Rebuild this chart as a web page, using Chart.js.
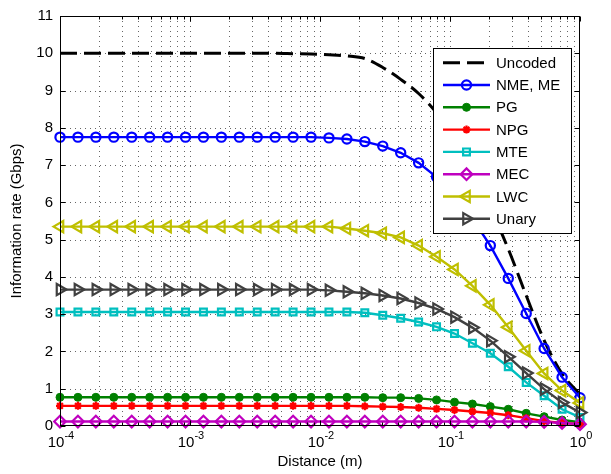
<!DOCTYPE html>
<html>
<head>
<meta charset="utf-8">
<script src="https://cdn.jsdelivr.net/npm/chart.js@4/dist/chart.umd.min.js"></script>
<style>
  html, body { margin: 0; padding: 0; background: #fff; }
  canvas { display: block; }
</style>
</head>
<body>
<canvas id="rateChart" width="611" height="474"></canvas>
<script>
// distance samples (m), 30 points log-spaced 1e-4 .. 1
var distances = [1.000e-4, 1.374e-4, 1.887e-4, 2.593e-4, 3.562e-4, 4.894e-4, 6.723e-4, 9.237e-4,
    1.269e-3, 1.743e-3, 2.395e-3, 3.290e-3, 4.520e-3, 6.210e-3, 8.532e-3,
    1.172e-2, 1.610e-2, 2.212e-2, 3.039e-2, 4.175e-2, 5.736e-2, 7.880e-2,
    0.1083, 0.1487, 0.2043, 0.2807, 0.3857, 0.5298, 0.7279, 1.0];

// information rate (Gbps)
var uncoded = [10, 10, 10, 10, 10, 10, 10, 10, 10, 10, 10, 10, 10, 9.99, 9.98,
    9.96, 9.93, 9.86, 9.62, 9.30, 8.92, 8.40, 7.72, 6.88, 5.85, 4.75, 3.50, 2.30, 1.40, 0.85];
var nmeMe = [7.75, 7.75, 7.75, 7.75, 7.75, 7.75, 7.75, 7.75, 7.75, 7.75, 7.75, 7.75, 7.75, 7.75, 7.75,
    7.73, 7.70, 7.63, 7.51, 7.33, 7.06, 6.68, 6.18, 5.56, 4.84, 3.96, 3.02, 2.08, 1.31, 0.76];
var pg = [0.77, 0.77, 0.77, 0.77, 0.77, 0.77, 0.77, 0.77, 0.77, 0.77, 0.77, 0.77, 0.77, 0.77, 0.77,
    0.77, 0.77, 0.77, 0.76, 0.76, 0.74, 0.70, 0.64, 0.59, 0.52, 0.45, 0.34, 0.25, 0.16, 0.10];
var npg = [0.54, 0.54, 0.54, 0.54, 0.54, 0.54, 0.54, 0.54, 0.54, 0.54, 0.54, 0.54, 0.54, 0.54, 0.54,
    0.54, 0.54, 0.53, 0.52, 0.51, 0.49, 0.46, 0.43, 0.39, 0.35, 0.29, 0.21, 0.13, 0.08, 0.05];
var mte = [3.06, 3.06, 3.06, 3.06, 3.06, 3.06, 3.06, 3.06, 3.06, 3.06, 3.06, 3.06, 3.06, 3.06, 3.06,
    3.06, 3.06, 3.04, 2.97, 2.89, 2.79, 2.66, 2.48, 2.22, 1.95, 1.59, 1.17, 0.81, 0.45, 0.23];
var mec = [0.12, 0.12, 0.12, 0.12, 0.12, 0.12, 0.12, 0.12, 0.12, 0.12, 0.12, 0.12, 0.12, 0.12, 0.12,
    0.12, 0.12, 0.12, 0.12, 0.12, 0.12, 0.12, 0.12, 0.12, 0.12, 0.12, 0.12, 0.11, 0.08, 0.05];
var lwc = [5.35, 5.35, 5.35, 5.35, 5.35, 5.35, 5.35, 5.35, 5.35, 5.35, 5.35, 5.35, 5.35, 5.35, 5.35,
    5.35, 5.30, 5.24, 5.17, 5.06, 4.84, 4.54, 4.20, 3.76, 3.25, 2.65, 2.02, 1.41, 0.95, 0.62];
var unary = [3.66, 3.66, 3.66, 3.66, 3.66, 3.66, 3.66, 3.66, 3.66, 3.66, 3.66, 3.66, 3.66, 3.66, 3.66,
    3.64, 3.60, 3.56, 3.50, 3.42, 3.30, 3.14, 2.92, 2.64, 2.29, 1.86, 1.42, 0.99, 0.63, 0.36];

var seriesNames = ["Uncoded", "NME, ME", "PG", "NPG", "MTE", "MEC", "LWC", "Unary"];

// axes
var xTickExponents = [-4, -3, -2, -1, 0];
var xGridValues = [1e-4, 2e-4, 3e-4, 4e-4, 5e-4, 6e-4, 7e-4, 8e-4, 9e-4,
    1e-3, 2e-3, 3e-3, 4e-3, 5e-3, 6e-3, 7e-3, 8e-3, 9e-3,
    1e-2, 2e-2, 3e-2, 4e-2, 5e-2, 6e-2, 7e-2, 8e-2, 9e-2,
    0.1, 0.2, 0.3, 0.4, 0.5, 0.6, 0.7, 0.8, 0.9, 1];
var yTicks = [0, 1, 2, 3, 4, 5, 6, 7, 8, 9, 10, 11];

var FONT = "'Liberation Sans', Arial, Helvetica, sans-serif";

function toPoints(values) {
    var pts = [];
    for (var i = 0; i < distances.length; i++) {
        pts.push({ x: distances[i], y: values[i] });
    }
    return pts;
}

function series(idx, values, color, style) {
    var ds = {
        label: seriesNames[idx],
        data: toPoints(values),
        borderColor: color,
        backgroundColor: color,
        borderWidth: 2.4,
        tension: 0,
        clip: false,
        order: 10 - idx, // later series on top, like matlab
        pointStyle: style.pointStyle || false,
        pointRadius: style.radius || 0,
        pointHoverRadius: style.radius || 0,
        pointBorderWidth: style.pointBorderWidth || 2.2,
        pointRotation: style.rotation || 0,
        pointBorderColor: color,
        pointBackgroundColor: style.filled ? color : "rgba(0,0,0,0)"
    };
    if (style.dash) {
        ds.borderDash = style.dash;
        ds.borderWidth = 3;
        ds.cubicInterpolationMode = "monotone";
    }
    return ds;
}

var datasets = [
    series(0, uncoded, "#000000", { dash: [17, 7] }),
    series(1, nmeMe, "#0000FF", { pointStyle: "circle", radius: 4.6 }),
    series(2, pg, "#008000", { pointStyle: "circle", radius: 4, filled: true, pointBorderWidth: 1 }),
    series(3, npg, "#FF0000", { pointStyle: "star", radius: 4 }),
    series(4, mte, "#00BFBF", { pointStyle: "rect", radius: 4.8 }),
    series(5, mec, "#BF00BF", { pointStyle: "rectRot", radius: 5.8 }),
    series(6, lwc, "#BFBF00", { pointStyle: "triangle", radius: 6.5, rotation: -90 }),
    series(7, unary, "#404040", { pointStyle: "triangle", radius: 6.5, rotation: 90 })
];

// matlab look: dotted grid, box, inward ticks, 10^n labels, legend inside
var matlabAxes = {
    id: "matlabAxes",
    beforeDatasetsDraw: function (chart) {
        var ctx = chart.ctx, a = chart.chartArea;
        var xs = chart.scales.x, ys = chart.scales.y;
        ctx.save();
        ctx.strokeStyle = "#666";
        ctx.lineWidth = 1;
        ctx.setLineDash([1, 4]);
        xGridValues.forEach(function (v) {
            var px = Math.round(xs.getPixelForValue(v)) + 0.5;
            if (px < a.left + 2 || px > a.right - 2) return;
            ctx.beginPath(); ctx.moveTo(px, a.top); ctx.lineTo(px, a.bottom); ctx.stroke();
        });
        yTicks.forEach(function (v) {
            var py = Math.round(ys.getPixelForValue(v)) + 0.5;
            if (py < a.top + 2 || py > a.bottom - 2) return;
            ctx.beginPath(); ctx.moveTo(a.left, py); ctx.lineTo(a.right, py); ctx.stroke();
        });
        ctx.restore();
    },
    afterDatasetsDraw: function (chart) {
        var ctx = chart.ctx, a = chart.chartArea;
        var xs = chart.scales.x, ys = chart.scales.y;
        var L = Math.round(a.left) + 0.5, R = Math.round(a.right) - 0.5;
        var T = Math.round(a.top) + 0.5, B = Math.round(a.bottom) - 0.5;
        ctx.save();
        ctx.strokeStyle = "#000";
        ctx.lineWidth = 1;
        ctx.setLineDash([]);
        // ticks
        xGridValues.forEach(function (v) {
            var px = Math.round(xs.getPixelForValue(v)) + 0.5;
            var major = xTickExponents.some(function (e) { return Math.abs(Math.pow(10, e) - v) < 1e-12; });
            var len = major ? 5 : 3;
            ctx.beginPath();
            ctx.moveTo(px, B); ctx.lineTo(px, B - len);
            ctx.moveTo(px, T); ctx.lineTo(px, T + len);
            ctx.stroke();
        });
        yTicks.forEach(function (v) {
            var py = Math.round(ys.getPixelForValue(v)) + 0.5;
            ctx.beginPath();
            ctx.moveTo(L, py); ctx.lineTo(L + 5, py);
            ctx.moveTo(R, py); ctx.lineTo(R - 5, py);
            ctx.stroke();
        });
        // box
        ctx.strokeRect(L, T, R - L, B - T);

        // x tick labels 10^n
        ctx.fillStyle = "#000";
        ctx.textBaseline = "alphabetic";
        xTickExponents.forEach(function (e) {
            var px = xs.getPixelForValue(Math.pow(10, e));
            var base = "10", sup = String(e);
            ctx.font = "15px " + FONT;
            var wb = ctx.measureText(base).width;
            ctx.font = "11px " + FONT;
            var ws = ctx.measureText(sup).width;
            var x0 = px - (wb + ws) / 2 + 1;
            ctx.font = "15px " + FONT;
            ctx.textAlign = "left";
            ctx.fillText(base, x0, a.bottom + 21);
            ctx.font = "11px " + FONT;
            ctx.fillText(sup, x0 + wb, a.bottom + 13);
        });

        // legend
        var bx = 433, by = 48, bw = 138, bh = 185;
        ctx.fillStyle = "#fff";
        ctx.fillRect(bx, by, bw, bh);
        ctx.strokeStyle = "#000";
        ctx.lineWidth = 1;
        ctx.strokeRect(bx + 0.5, by + 0.5, bw, bh);
        ctx.font = "15px " + FONT;
        ctx.textAlign = "left";
        ctx.textBaseline = "middle";
        chart.data.datasets.forEach(function (ds, i) {
            var ry = by + 14.7 + 22.3 * i;
            ctx.save();
            ctx.strokeStyle = ds.borderColor;
            ctx.lineWidth = ds.borderWidth;
            ctx.setLineDash(ds.borderDash || []);
            ctx.beginPath(); ctx.moveTo(443, ry); ctx.lineTo(490, ry); ctx.stroke();
            ctx.setLineDash([]);
            if (ds.pointStyle) {
                ctx.strokeStyle = ds.pointBorderColor;
                ctx.fillStyle = ds.pointBackgroundColor;
                ctx.lineWidth = ds.pointBorderWidth;
                Chart.helpers.drawPoint(ctx, {
                    pointStyle: ds.pointStyle,
                    rotation: ds.pointRotation,
                    radius: ds.pointRadius,
                    borderWidth: ds.pointBorderWidth
                }, 466.5, ry);
            }
            ctx.restore();
            ctx.fillStyle = "#000";
            ctx.fillText(ds.label, 496, ry + 1);
        });
        ctx.restore();
    }
};

new Chart(document.getElementById("rateChart"), {
    type: "line",
    data: { datasets: datasets },
    plugins: [matlabAxes],
    options: {
        responsive: false,
        animation: false,
        devicePixelRatio: 1,
        layout: { padding: { left: 0, right: 31, top: 16, bottom: 0 } },
        plugins: {
            legend: { display: false },
            tooltip: { enabled: false }
        },
        scales: {
            x: {
                type: "logarithmic",
                min: 1e-4,
                max: 1,
                grid: { display: false },
                border: { display: false },
                afterBuildTicks: function (s) {
                    s.ticks = xGridValues.map(function (v) { return { value: v }; });
                },
                afterFit: function (s) { s.height = 48; },
                ticks: { autoSkip: false, callback: function () { return ""; } },
                title: {
                    display: true,
                    text: "Distance (m)",
                    color: "#000",
                    font: { family: FONT, size: 15 },
                    padding: { top: 0, bottom: 3 }
                }
            },
            y: {
                type: "linear",
                min: 0,
                max: 11,
                grid: { display: false, drawTicks: false },
                border: { display: false },
                afterFit: function (s) { s.width = 60; },
                ticks: {
                    stepSize: 1,
                    padding: 7,
                    color: "#000",
                    font: { family: FONT, size: 15 }
                },
                title: {
                    display: true,
                    text: "Information rate (Gbps)",
                    color: "#000",
                    font: { family: FONT, size: 15 },
                    padding: { top: 8, bottom: 0 }
                }
            }
        }
    }
});
</script>
</body>
</html>
